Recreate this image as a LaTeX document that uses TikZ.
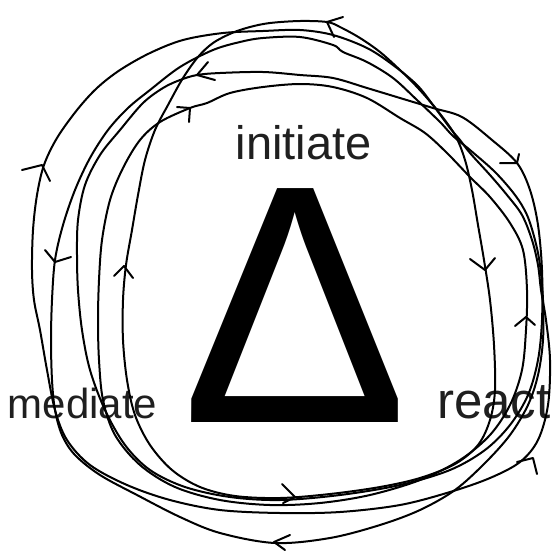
\documentclass[tikz,border=0pt]{standalone}
\usepackage{fontspec}
\setmainfont{Liberation Sans}
\begin{document}
\begin{tikzpicture}[x=1pt,y=-1pt,
  loopline/.style={line width=2pt, line join=round, line cap=round},
  chev/.style={line width=2pt, line join=round, line cap=round},
  label/.style={inner sep=0pt, anchor=base, text=black!88}]
\useasboundingbox (0,0) rectangle (555,550);
\fill[white] (0,0) rectangle (555,550);

% Delta
\node[inner sep=0pt, anchor=base] (delta) at (295.5,422) {\fontsize{340}{340}\selectfont\raisebox{0pt}[236pt][0pt]{Δ}};
% labels
\node[label] (initiate) at (303.5,159) {\fontsize{47}{47}\selectfont\raisebox{0pt}[\height][0pt]{initiate}};
\node[label] (mediate) at (82.5,418) {\fontsize{42}{42}\selectfont mediate};
\node[label, anchor=base west] (react) at (437,418) {\fontsize{51}{51}\selectfont react};

% loop 1 (steep)
\draw[loopline] plot[smooth cycle, tension=0.55] coordinates {
(327,22) (300,21) (270,23) (250,27) (232,33) (213,43) (198,57) (183,78) (168,105) (155,130) (145,160) (138,195) (132,230) (126,265) (123,300) (123,340) (127,380) (135,415) (150,445) (172,470) (200,487) (235,496) (280,498) (330,494) (380,487) (420,478) (455,464) (478,445) (490,420) (495,390) (494,345) (490,300) (484,260) (478,225) (472,190) (465,160) (455,135) (437,110) (418,88) (400,70) (380,52) (360,38) (340,27)};

% loop 2 (outer left)
\draw[loopline] plot[smooth cycle, tension=0.55] coordinates {
(300,30) (263,31) (223,33) (183,40) (150,53) (120,70) (97,88) (77,110) (57,138) (44,165) (37,195) (33,230) (32,270) (34,300) (40,330) (47,370) (55,410) (67,440) (90,465) (127,485) (170,500) (220,510) (280,513) (340,512) (400,505) (450,492) (490,478) (520,462) (538,440) (548,405) (550,360) (546,320) (541,290) (538,265) (532,240) (522,215) (507,195) (490,175) (470,153) (460,140) (450,128) (433,105) (417,85) (393,65) (367,48) (333,35)};

% loop 3
\draw[loopline] plot[smooth cycle, tension=0.55] coordinates {
(300,37) (263,38) (240,42) (213,50) (180,67) (150,90) (128,108) (108,130) (90,158) (75,190) (63,225) (55,260) (52,300) (51,340) (52,380) (55,410) (62,435) (75,455) (100,475) (137,495) (180,517) (220,533) (275,543) (330,538) (380,525) (420,510) (455,490) (485,463) (510,435) (528,405) (538,375) (543,340) (543,300) (540,265) (535,240) (527,215) (515,195) (495,172) (470,150) (453,136) (440,122) (417,100) (393,78) (367,62) (343,52) (333,45)};

% loop 4
\draw[loopline] plot[smooth cycle, tension=0.55] coordinates {
(300,75) (333,78) (367,88) (400,98) (433,108) (462,117) (492,140) (517,163) (530,190) (538,225) (542,270) (542,320) (538,360) (528,395) (510,425) (485,450) (450,470) (400,485) (340,495) (280,500) (230,497) (185,487) (150,470) (125,445) (105,410) (90,370) (82,330) (78,290) (77,255) (78,220) (85,185) (100,155) (120,130) (143,103) (163,88) (180,80) (197,75) (220,73) (263,72)};

% loop 5
\draw[loopline] plot[smooth cycle, tension=0.55] coordinates {
(300,84) (333,87) (367,98) (400,118) (425,133) (447,153) (470,177) (490,197) (510,223) (523,250) (527,290) (526,330) (522,370) (510,405) (490,435) (460,460) (420,480) (370,495) (320,503) (270,505) (220,500) (175,487) (140,465) (115,435) (103,400) (99,360) (98,320) (99,280) (102,240) (110,200) (123,168) (140,140) (160,122) (190,108) (207,103) (230,93) (263,87)};

% chevrons
\draw[chev] (343,17) -- (327,22) -- (334,37);
\draw[chev] (208,62) -- (197,75) -- (215,80);
\draw[chev] (177,107) -- (190,108) -- (189,122);
\draw[chev] (22,170) -- (42,165) -- (50,181);
\draw[chev] (45,250) -- (55,262) -- (71,257);
\draw[chev] (114,276) -- (124,266) -- (133,278);
\draw[chev] (500,163) -- (517,163) -- (519,154);
\draw[chev] (470,259) -- (485,270) -- (495,258);
\draw[chev] (515,326) -- (526,317) -- (535,325);
\draw[chev] (517,462) -- (533,458) -- (537,474);
\draw[chev] (282,484) -- (295,497) -- (283,503);
\draw[chev] (290,535) -- (274,542) -- (285,550);
\end{tikzpicture}
\end{document}
